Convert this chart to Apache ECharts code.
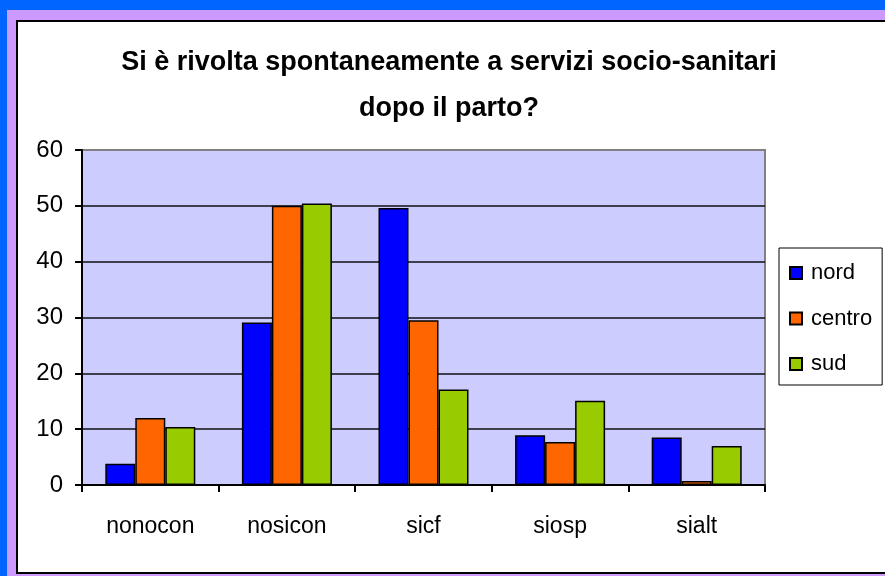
<!DOCTYPE html>
<html>
<head>
<meta charset="utf-8">
<script src="https://cdn.jsdelivr.net/npm/echarts@6/dist/echarts.min.js"></script>
<style>
html,body{margin:0;padding:0;background:#0066FF;}
#chart{width:885px;height:576px;}
</style>
</head>
<body>
<div id="chart"></div>
<script>
var categories = ['nonocon', 'nosicon', 'sicf', 'siosp', 'sialt'];
var nord = [3.8, 29.1, 49.6, 8.9, 8.5];
var centro = [12.0, 50.0, 29.5, 7.7, 0.7];
var sud = [10.4, 50.4, 17.1, 15.1, 7.0];
var yTicks = [0, 10, 20, 30, 40, 50, 60];
var seriesNames = ['nord', 'centro', 'sud'];
var seriesColors = ['#0000FF', '#FF6600', '#99CC00'];
var titleText = 'Si è rivolta spontaneamente a servizi socio-sanitari\ndopo il parto?';

var FONT = '"Liberation Sans", Arial, sans-serif';
var chart = echarts.init(document.getElementById('chart'), null, {renderer: 'canvas'});
var values = [nord, centro, sud];

var option = {
  backgroundColor: '#0066FF',
  animation: false,
  graphic: [
    {type: 'rect', z: -10, silent: true, shape: {x: 7, y: 10, width: 900, height: 600}, style: {fill: '#CC99FF'}},
    {type: 'rect', z: -9, silent: true, shape: {x: 17, y: 21, width: 900, height: 552}, style: {fill: '#FFFFFF', stroke: '#000000', lineWidth: 2}}
  ],
  title: {
    text: titleText,
    left: 444,
    top: 35,
    textAlign: 'center',
    textStyle: {fontFamily: FONT, fontSize: 27, fontWeight: 'bold', color: '#000', lineHeight: 46}
  },
  legend: {
    orient: 'vertical',
    left: 779,
    top: 248,
    padding: [14, 10, 10, 10],
    itemGap: 23.5,
    itemWidth: 12,
    itemHeight: 12,
    icon: 'rect',
    borderColor: '#000',
    borderWidth: 1,
    backgroundColor: '#fff',
    textStyle: {fontFamily: FONT, fontSize: 22, color: '#000', padding: [0, 0, 0, 4]},
    data: seriesNames
  },
  grid: {
    left: 82, top: 150, width: 683, height: 335,
    show: true, backgroundColor: '#CCCCFF', borderColor: '#808080', borderWidth: 2,
    containLabel: false
  },
  xAxis: {
    type: 'category',
    data: categories,
    boundaryGap: true,
    axisLine: {lineStyle: {color: '#000', width: 2}},
    axisTick: {show: true, length: 7, alignWithLabel: false, lineStyle: {color: '#000', width: 2}},
    axisLabel: {fontFamily: FONT, fontSize: 23, color: '#000', margin: 30}
  },
  yAxis: {
    type: 'value',
    min: yTicks[0],
    max: yTicks[yTicks.length - 1],
    interval: 10,
    axisLine: {show: true, lineStyle: {color: '#000', width: 2}},
    axisTick: {show: true, length: 7, lineStyle: {color: '#000', width: 2}},
    axisLabel: {fontFamily: FONT, fontSize: 24, color: '#000', margin: 19},
    splitLine: {show: true, showMaxLine: false, lineStyle: {color: '#111', width: 1.5}}
  },
  series: seriesNames.map(function (name, i) {
    return {
      name: name,
      type: 'bar',
      data: values[i],
      barWidth: 30,
      barGap: '0%',
      itemStyle: {color: seriesColors[i], borderColor: '#000', borderWidth: 1.5}
    };
  })
};
chart.setOption(option);
</script>
</body>
</html>
